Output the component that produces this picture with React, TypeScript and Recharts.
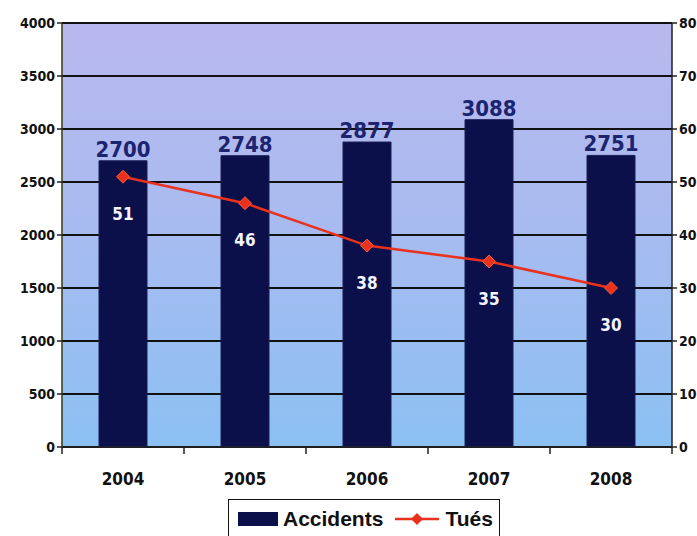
import { ComposedChart, Bar, Line, XAxis, YAxis, CartesianGrid, Legend, LabelList } from 'recharts';

const years = ['2004', '2005', '2006', '2007', '2008'];
const accidents = [2700, 2748, 2877, 3088, 2751];
const tues = [51, 46, 38, 35, 30];
const leftTicks = [0, 500, 1000, 1500, 2000, 2500, 3000, 3500, 4000];
const rightTicks = [0, 10, 20, 30, 40, 50, 60, 70, 80];

const data = years.map((year, i) => ({ year, accidents: accidents[i], tues: tues[i] }));

const FONT = '"DejaVu Sans Condensed", "Liberation Sans Narrow", Arial, sans-serif';
const BAND = 122;

const Diamond = (props: any) => {
  const { cx, cy } = props;
  if (cx == null || cy == null) return null;
  const r = 6.5;
  return (
    <polygon
      points={`${cx},${cy - r} ${cx + r},${cy} ${cx},${cy + r} ${cx - r},${cy}`}
      fill="#e8321e"
      stroke="#f06040"
      strokeWidth={1}
    />
  );
};

const XTick = (props: any) => {
  const { x, y, payload, index } = props;
  return (
    <g>
      <line x1={x - BAND / 2} y1={y - 8} x2={x - BAND / 2} y2={y - 1} stroke="#222" strokeWidth={1.5} />
      {index === years.length - 1 && (
        <line x1={x + BAND / 2} y1={y - 8} x2={x + BAND / 2} y2={y - 1} stroke="#222" strokeWidth={1.5} />
      )}
      <text x={x} y={y + 30} textAnchor="middle" fontFamily={FONT} fontWeight="bold" fontSize={17} fill="#111">
        {payload.value}
      </text>
    </g>
  );
};

const TuesLabel = (props: any) => {
  const { x, y, value } = props;
  return (
    <text x={x} y={y + 43} textAnchor="middle" fontFamily={FONT} fontSize={17} fontWeight="bold" fill="#f4f4ff">
      {value}
    </text>
  );
};

const LegendBox = () => (
  <div
    style={{
      position: 'absolute',
      left: 228,
      top: 499,
      width: 272,
      height: 40,
      background: '#ffffff',
      border: '1px solid #111',
      boxSizing: 'border-box',
      display: 'flex',
      alignItems: 'center',
      paddingLeft: 9,
      fontFamily: 'Arial, "Liberation Sans", sans-serif',
      fontWeight: 'bold',
      fontSize: 21,
      color: '#111',
    }}
  >
    <span style={{ display: 'inline-block', width: 40, height: 14, background: '#0b0f4a', marginRight: 5 }} />
    <span>Accidents</span>
    <svg width={48} height={20} style={{ marginLeft: 10, marginRight: 4 }}>
      <line x1={2} y1={10} x2={46} y2={10} stroke="#e8321e" strokeWidth={2.5} />
      <polygon points="24,4 30,10 24,16 18,10" fill="#e8321e" />
    </svg>
    <span>Tués</span>
  </div>
);

export default function App() {
  return (
    <div style={{ position: 'absolute', left: 0, top: 0, width: 697, height: 536, background: '#ffffff', overflow: 'hidden' }}>
      <ComposedChart
        width={697}
        height={536}
        data={data}
        margin={{ top: 23, right: 0, left: 0, bottom: 0 }}
        barCategoryGap={37}
      >
        <defs>
          <linearGradient id="bg" x1="0" y1="0" x2="0" y2="1">
            <stop offset="0%" stopColor="#b9b8ee" />
            <stop offset="45%" stopColor="#a9bbf0" />
            <stop offset="100%" stopColor="#8cc0f3" />
          </linearGradient>
        </defs>
        <CartesianGrid
          yAxisId="left"
          vertical={false}
          fill="url(#bg)"
          fillOpacity={1}
          stroke="#111"
          strokeWidth={1.8}
        />
        <XAxis
          dataKey="year"
          height={89}
          axisLine={{ stroke: '#222', strokeWidth: 1.5 }}
          tickLine={false}
          tick={<XTick />}
          interval={0}
        />
        <YAxis
          yAxisId="left"
          width={62}
          domain={[0, 4000]}
          ticks={leftTicks}
          interval={0}
          axisLine={{ stroke: '#3a3a10', strokeWidth: 1.5 }}
          tickLine={{ stroke: '#222', strokeWidth: 1.5 }}
          tickSize={5}
          tick={{ fill: '#111', fontSize: 14, fontFamily: FONT, fontWeight: 'bold' }}
        />
        <YAxis
          yAxisId="right"
          orientation="right"
          width={25}
          domain={[0, 80]}
          ticks={rightTicks}
          interval={0}
          axisLine={{ stroke: '#222', strokeWidth: 1.5 }}
          tickLine={{ stroke: '#222', strokeWidth: 1.5 }}
          tickSize={5}
          tick={{ fill: '#111', fontSize: 14, fontFamily: FONT, fontWeight: 'bold', textAnchor: 'start' }}
        />
        <Legend content={<LegendBox />} wrapperStyle={{ position: 'absolute', left: 0, top: 0, width: 0, height: 0 }} />
        <Bar yAxisId="left" dataKey="accidents" name="Accidents" fill="#0b0f4a" stroke="#1a1f55" isAnimationActive={false}>
          <LabelList
            dataKey="accidents"
            position="top"
            offset={4}
            fill="#1c2470"
            fontSize={22}
            fontWeight="bold"
            fontFamily={FONT}
          />
        </Bar>
        <Line
          yAxisId="right"
          dataKey="tues"
          name="Tués"
          stroke="#e8321e"
          strokeWidth={2.5}
          dot={<Diamond />}
          activeDot={false}
          isAnimationActive={false}
        >
          <LabelList dataKey="tues" content={<TuesLabel />} />
        </Line>
      </ComposedChart>
    </div>
  );
}
